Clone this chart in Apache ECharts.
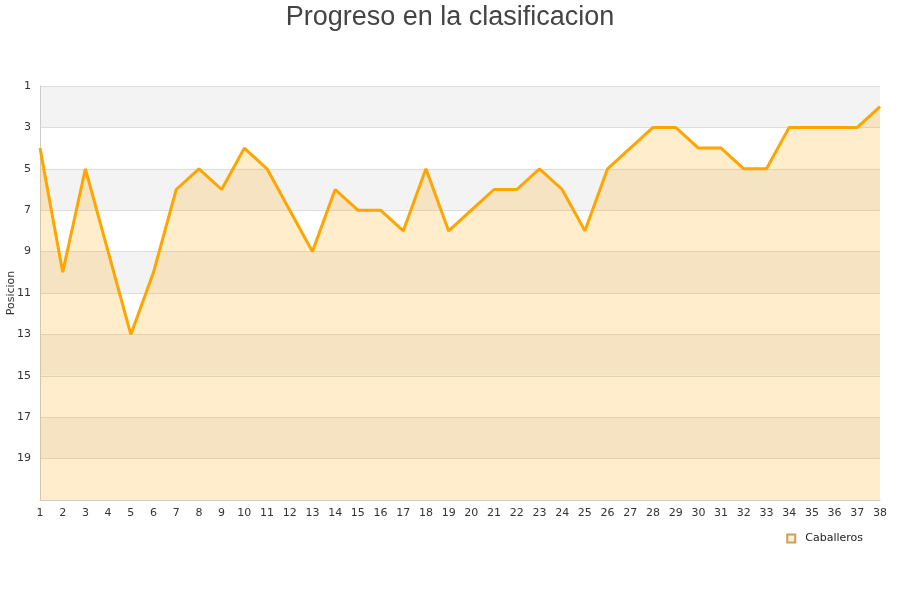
<!DOCTYPE html>
<html>
<head>
<meta charset="utf-8">
<script src="https://cdn.jsdelivr.net/npm/echarts@6/dist/echarts.min.js"></script>
<style>html,body{margin:0;padding:0;background:#fff}#c{width:900px;height:600px}</style>
</head>
<body>
<div id="c"></div>
<script>
const jornadas = Array.from({length: 38}, (_, i) => String(i + 1));
const posiciones = [4,10,5,9,13,10,6,5,6,4,5,7,9,6,7,7,8,5,8,7,6,6,5,6,8,5,4,3,3,4,4,5,5,3,3,3,3,2];
const yTicks = [1,3,5,7,9,11,13,15,17,19];

const chart = echarts.init(document.getElementById('c'), null, {renderer: 'canvas'});
chart.setOption({
  animation: false,
  title: {
    text: 'Progreso en la clasificacion',
    left: 'center', top: -1,
    textStyle: {fontFamily: 'Liberation Sans', fontSize: 27, fontWeight: 'normal', color: '#444'}
  },
  legend: {
    data: ['Caballeros'],
    right: 32, top: 528,
    icon: 'rect', itemWidth: 8, itemHeight: 8, itemGap: 6,
    textStyle: {fontFamily: 'DejaVu Sans', fontSize: 11, color: '#222', padding: [0, 0, 0, 5]}
  },
  grid: {left: 40, right: 20, top: 86, bottom: 100, containLabel: false, outerBoundsMode: 'none'},
  xAxis: {
    type: 'category', data: jornadas, boundaryGap: false,
    axisLine: {lineStyle: {color: '#ccc'}},
    axisTick: {show: false},
    axisLabel: {fontFamily: 'DejaVu Sans', fontSize: 11, color: '#333', interval: 0, hideOverlap: false}
  },
  yAxis: {
    type: 'value', inverse: true, min: 1, max: 21, interval: 2,
    name: 'Posicion', nameLocation: 'middle', nameGap: 23, nameMoveOverlap: false,
    nameTextStyle: {fontFamily: 'DejaVu Sans', fontSize: 11, color: '#333'},
    axisLine: {show: true, lineStyle: {color: '#ccc'}},
    axisTick: {show: false},
    axisLabel: {fontFamily: 'DejaVu Sans', fontSize: 11, color: '#333', margin: 9,
      formatter: v => yTicks.includes(v) ? String(v) : ''},
    splitLine: {show: true, lineStyle: {color: '#ddd'}},
    splitArea: {show: true, areaStyle: {color: ['#f3f3f3', '#ffffff']}}
  },
  series: [{
    name: 'Caballeros', type: 'line', data: posiciones,
    showSymbol: false, symbol: 'none',
    lineStyle: {color: '#ffa500', width: 3},
    itemStyle: {color: '#ffedcc', borderColor: '#c8a060', borderWidth: 1},
    areaStyle: {color: 'rgba(255,165,0,0.2)', opacity: 1, origin: 'end'}
  }]
});
</script>
</body>
</html>
